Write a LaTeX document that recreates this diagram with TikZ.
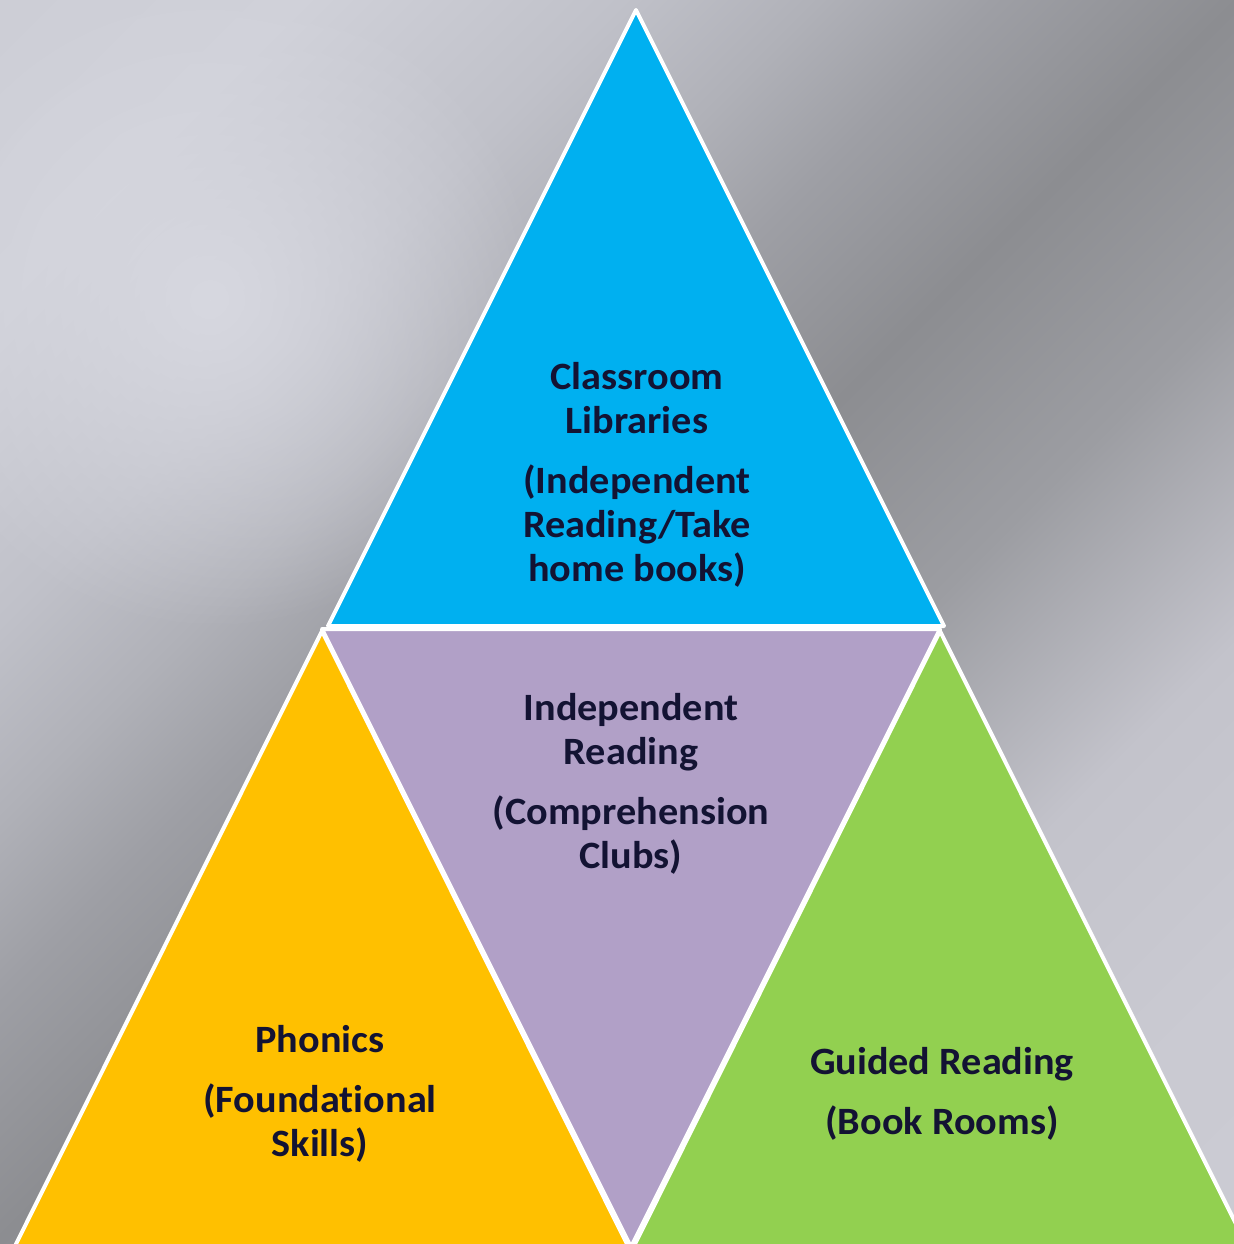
\documentclass[tikz,border=0pt]{standalone}
\usepackage{fontspec}
\setmainfont{Carlito}[Ligatures=NoCommon, FakeStretch=1.04]
\usetikzlibrary{fadings}
\definecolor{bg0}{HTML}{CDCED6}
\definecolor{bg1}{HTML}{D0D1D9}
\definecolor{bg2}{HTML}{C0C1C9}
\definecolor{bg3}{HTML}{B0B1B8}
\definecolor{bg4}{HTML}{9E9FA5}
\definecolor{bg5}{HTML}{8C8D91}
\definecolor{bg6}{HTML}{9C9DA2}
\definecolor{bg7}{HTML}{C3C3CB}
\definecolor{bg8}{HTML}{CACAD2}
\definecolor{bg9}{HTML}{CBCBD3}
\definecolor{glowCol}{HTML}{D7D8E0}
\definecolor{triBlue}{HTML}{00B0F0}
\definecolor{triPurple}{HTML}{B1A0C7}
\definecolor{triYellow}{HTML}{FFC000}
\definecolor{triGreen}{HTML}{92D050}
\definecolor{txtNavy}{HTML}{131333}
\pgfdeclarehorizontalshading{bgshade}{100bp}{color(0bp)=(bg0); color(14.64bp)=(bg0); color(23.13bp)=(bg1); color(32.32bp)=(bg2); color(37.98bp)=(bg3); color(42.93bp)=(bg4); color(50bp)=(bg5); color(58.49bp)=(bg6); color(68.39bp)=(bg7); color(78.29bp)=(bg8); color(85.36bp)=(bg9); color(100bp)=(bg9)}
\tikzfading[name=glowfade, inner color=transparent!0, outer color=transparent!100]
\tikzset{
  tri/.style={draw=white, line width=0.04cm, line join=round},
  lbl/.style={font=\bfseries\fontsize{11pt}{12.52pt}\selectfont, text=txtNavy, align=center, inner sep=0pt}
}
\begin{document}
\begin{tikzpicture}[x=0.01cm,y=-0.01cm]
\useasboundingbox (0,0) rectangle (1234,1244);
\begin{scope}
\clip (0,0) rectangle (1234,1244);
\shade[shading=bgshade, shading angle=-45] (0,0) rectangle (1234,1244);
\fill[glowCol, path fading=glowfade] (210,300) circle (330);
\path[tri, fill=triBlue] (636,10) -- (944,626) -- (328,626) -- cycle;
\path[tri, fill=triPurple] (322,629) -- (940,629) -- (631,1247) -- cycle;
\path[tri, fill=triYellow] (322,631) -- (629,1248) -- (14,1248) -- cycle;
\path[tri, fill=triGreen] (940,631) -- (1248,1248) -- (633,1248) -- cycle;
\end{scope}
\node[lbl] (libraries) at (637,475) {Classroom\\Libraries\\[0.16cm](Independent\\Reading/Take\\home books)};
\node[lbl] (independent) at (631,784) {Independent\\Reading\\[0.16cm](Comprehension\\Clubs)};
\node[lbl] (phonics) at (320,1094) {Phonics\\[0.16cm](Foundational\\Skills)};
\node[lbl] (guided) at (942,1094) {Guided Reading\\[0.16cm](Book Rooms)};
\end{tikzpicture}
\end{document}
